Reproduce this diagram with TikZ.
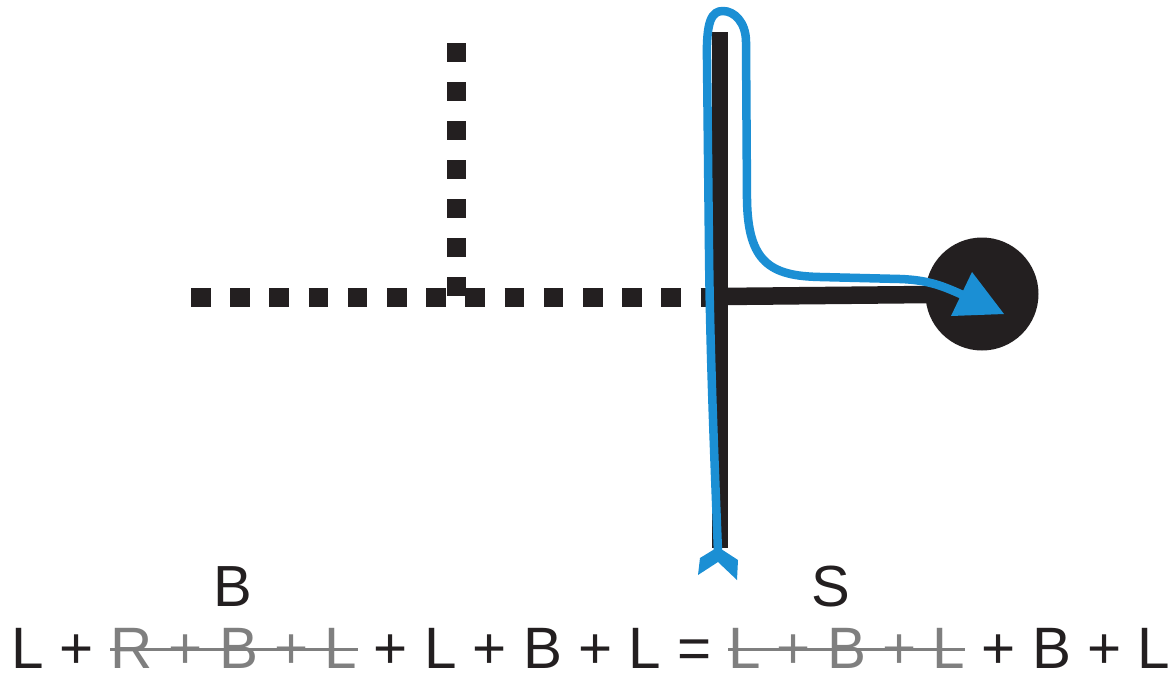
\documentclass[tikz,border=0pt]{standalone}
\usepackage{fontspec}
\setmainfont{Liberation Sans}
\definecolor{ink}{HTML}{231F20}
\definecolor{flow}{HTML}{1B8FD4}
\definecolor{struck}{HTML}{7F7F7F}
\tikzset{
  eq/.style={inner sep=0pt, anchor=base west, text=ink, font=\fontsize{58.4}{58}\selectfont},
  eqstruck/.style={eq, text=struck},
  lbl/.style={inner sep=0pt, anchor=base, text=ink, font=\fontsize{58}{58}\selectfont},
  strikeline/.style={draw=struck, line width=3pt},
  dots/.style={draw=ink, line width=19pt, dash pattern=on 19.5pt off 19.7pt},
  bar/.style={draw=ink, line width=16pt},
  flowline/.style={draw=flow, line width=8.5pt, line join=round},
}
\begin{document}
\begin{tikzpicture}[x=1pt,y=-1pt]
\useasboundingbox[fill=white] (0,0) rectangle (1171,678);

% dotted guide lines
\coordinate (hd0) at (191,297);
\coordinate (hd1) at (722,297);
\coordinate (vd0) at (456.5,43);
\coordinate (vd1) at (456.5,297);
\draw[dots] (hd0) -- (hd1);
\draw[dots, dash pattern=on 19pt off 20pt] (vd0) -- (vd1);

% black T and dot
\coordinate (vtop) at (720,32);
\coordinate (vbot) at (720,548);
\coordinate (junc) at (720,296.5);
\node[circle, fill=ink, inner sep=0pt, minimum size=113pt] (dot) at (982,294) {};
\draw[bar] (vtop) -- (vbot);
\draw[bar, line width=17.5pt] (junc) -- (dot.center);

% blue path
\coordinate (tail) at (718,552);
\coordinate (headbase) at (965,296);
\draw[flowline] (tail) .. controls (714,450) and (710,350) .. (709,250)
  -- (707,60)
  .. controls (706,20) and (712,11) .. (723,11)
  .. controls (734,11) and (746,22) .. (746,42)
  -- (747,200)
  .. controls (748,262) and (770,276) .. (820,277)
  -- (900,279)
  .. controls (930,280) and (945,287) .. (headbase);
\fill[flow] (972,272) -- (1004,314) -- (951,316) -- cycle;
\fill[flow] (698,575) -- (700,558) -- (718,547) -- (738,560) -- (737,580) -- (718,562) -- cycle;

% equation
\node[eq] (p1) at (11,668) {L +};
\node[eqstruck] (s1) at ([xshift=16.2pt]p1.base east) {R + B + L};
\node[eq] (p2) at ([xshift=16.2pt]s1.base east) {+ L + B + L =};
\node[eqstruck] (s2) at ([xshift=16.2pt]p2.base east) {L + B + L};
\node[eq] (p3) at ([xshift=16.2pt]s2.base east) {+ B + L};
\draw[strikeline] ([yshift=19pt]s1.base west) -- ([yshift=19pt]s1.base east);
\draw[strikeline] ([yshift=19pt]s2.base west) -- ([yshift=19pt]s2.base east);
\node[lbl] (lb) at ([yshift=62pt,xshift=-1pt]s1.base) {B};
\node[lbl] (ls) at ([yshift=62pt,xshift=-16pt]s2.base) {S};
\end{tikzpicture}
\end{document}
